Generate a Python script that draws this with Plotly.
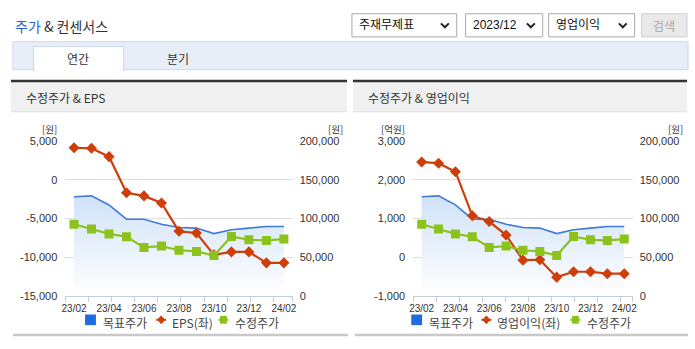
import plotly.graph_objects as go

# ---------------- data ----------------
months = ["23/02", "23/03", "23/04", "23/05", "23/06", "23/07", "23/08",
          "23/09", "23/10", "23/11", "23/12", "24/01", "24/02"]
tick_labels = ["23/02", "23/04", "23/06", "23/08", "23/10", "23/12", "24/02"]

target_price = [128000, 129200, 117500, 99000, 99000, 92500, 88300,
                87500, 80400, 85400, 87500, 89600, 89600]
adj_price = [92500, 86250, 80000, 76250, 62500, 64200, 58800,
             57300, 51900, 76700, 72300, 71500, 73300]
eps = [4150, 4080, 3000, -1670, -2080, -3000, -6670,
       -6880, -9710, -9330, -9330, -10750, -10750]
op_income = [2460, 2430, 2210, 1070, 920, 570, -80,
             -70, -520, -380, -380, -430, -430]

eps_ticks = [-15000, -10000, -5000, 0, 5000]
eps_tick_text = ["-15,000", "-10,000", "-5,000", "0", "5,000"]
op_ticks = [-1000, 0, 1000, 2000, 3000]
op_tick_text = ["-1,000", "0", "1,000", "2,000", "3,000"]
price_ticks = [0, 50000, 100000, 150000, 200000]
price_tick_text = ["0", "50,000", "100,000", "150,000", "200,000"]

# ---------------- helpers ----------------
W, H = 695, 349
def X(px): return px / W
def Y(py): return 1 - py / H

NFONT = "Liberation Sans Narrow, Liberation Sans, sans-serif"
FONT = "Liberation Sans, Noto Sans CJK KR, sans-serif"
KFONT = "Noto Sans CJK KR, sans-serif"
TXT = "#333333"
BLUE_LINE = "#3f7ad6"
RED = "#cf3d08"
GREEN = "#8cc21c"
AXIS_LINE = "#c3cddd"
GRID = "#dcdcdc"

xi = list(range(len(months)))
label_idx = [months.index(m) for m in tick_labels]

fig = go.Figure()

def add_chart(xref, y_price, y_left, y_top, left_vals, left_name):
    fig.add_trace(go.Scatter(
        x=xi, y=target_price, xaxis=xref, yaxis=y_price, mode="lines",
        line=dict(color=BLUE_LINE, width=1.6), fill="tozeroy",
        fillgradient=dict(type="vertical",
                          colorscale=[[0, "rgba(255,255,255,1)"],
                                      [1, "rgba(208,226,248,1)"]]),
        name="목표주가", showlegend=False, hoverinfo="skip"))
    fig.add_trace(go.Scatter(
        x=xi, y=left_vals, xaxis=xref, yaxis=y_left, mode="lines+markers",
        line=dict(color=RED, width=2.2),
        marker=dict(symbol="diamond", size=8.5, color=RED),
        name=left_name, showlegend=False))
    fig.add_trace(go.Scatter(
        x=xi, y=adj_price, xaxis=xref, yaxis=y_top, mode="lines+markers",
        line=dict(color=GREEN, width=2.2),
        marker=dict(symbol="square", size=9, color=GREEN),
        name="수정주가", showlegend=False))

add_chart("x", "y", "y2", "y5", eps, "EPS(좌)")
add_chart("x2", "y3", "y4", "y6", op_income, "영업이익(좌)")

ydom = [Y(300), Y(140)]
tickfont = dict(family=NFONT, size=11, color=TXT)
xtickfont = dict(family=NFONT, size=10, color=TXT)

def xaxis_cfg(x0, x1, step):
    n = len(months)
    slot = (x1 - x0) / n
    minor_vals = []
    v = -0.5
    while v < n - 0.5 - 0.3:
        minor_vals.append(v)
        v += step / slot
    minor_vals.append(n - 0.5)
    return dict(domain=[X(x0), X(x1)], range=[-0.5, n - 0.5],
                tickvals=label_idx, ticktext=tick_labels, ticks="",
                showgrid=False, zeroline=False, showline=True,
                linecolor=AXIS_LINE, linewidth=1.2, tickfont=xtickfont,
                ticklabelstandoff=3,
                minor=dict(ticks="outside", ticklen=5, tickcolor=AXIS_LINE,
                           tickwidth=1.2, tickvals=minor_vals, showgrid=False),
                fixedrange=True)

def yprice_cfg(xanchor):
    return dict(domain=ydom, anchor=xanchor, side="right",
                range=[0, 200000], tickvals=price_ticks, ticktext=price_tick_text,
                ticks="", showgrid=True, gridcolor=GRID, gridwidth=1,
                zeroline=False, showline=False,
                tickfont=tickfont, ticklabelstandoff=6, fixedrange=True)

def yleft_cfg(xanchor, overlay, vals, text):
    return dict(domain=ydom, anchor=xanchor, overlaying=overlay, side="left",
                range=[vals[0], vals[-1]],
                tickvals=vals, ticktext=text, ticks="", showgrid=False,
                zeroline=False, showline=False,
                tickfont=tickfont, ticklabelstandoff=7, fixedrange=True)

def ytop_cfg(xanchor, overlay):
    return dict(domain=ydom, anchor=xanchor, overlaying=overlay,
                range=[0, 200000], visible=False, showgrid=False,
                zeroline=False, fixedrange=True)

fig.update_layout(
    width=W, height=H, margin=dict(l=0, r=0, t=0, b=0),
    paper_bgcolor="white", plot_bgcolor="rgba(0,0,0,0)",
    showlegend=False,
    xaxis=xaxis_cfg(62, 292, 23.4),
    yaxis=yprice_cfg("x"),
    yaxis2=yleft_cfg("x", "y", eps_ticks, eps_tick_text),
    yaxis5=ytop_cfg("x", "y"),
    xaxis2=xaxis_cfg(414, 636, 23.3),
    yaxis3=yprice_cfg("x2"),
    yaxis4=yleft_cfg("x2", "y3", op_ticks, op_tick_text),
    yaxis6=ytop_cfg("x2", "y3"),
)

shapes = []
anns = []

def rect(x0, y0, x1, y1, fill=None, line=None, lw=1, layer="below"):
    shapes.append(dict(type="rect", xref="paper", yref="paper",
                       x0=X(x0), x1=X(x1), y0=Y(y1), y1=Y(y0),
                       fillcolor=fill or "rgba(0,0,0,0)",
                       line=dict(color=line or "rgba(0,0,0,0)", width=lw if line else 0),
                       layer=layer))

def path(points, color, width=1.5, fill=None, closed=False):
    d = "M" + " L".join(f"{X(a):.5f},{Y(b):.5f}" for a, b in points)
    if closed:
        d += " Z"
    shapes.append(dict(type="path", xref="paper", yref="paper", path=d,
                       line=dict(color=color, width=width),
                       fillcolor=fill or "rgba(0,0,0,0)", layer="above"))

def text(x, y, s, size=12, color=TXT, anchor="left", family=KFONT):
    anns.append(dict(x=X(x), y=Y(y), xref="paper", yref="paper", text=s,
                     showarrow=False, xanchor=anchor, yanchor="middle",
                     font=dict(family=family, size=size, color=color)))

# ----- header -----
text(9, 21, "<span style='color:#2a62d6'>주가</span> & 컨센서스", size=14)

def dropdown(x0, x1, label):
    rect(x0, 8, x1, 32, fill="white", line="#a9a9a9")
    text(x0 + 5, 20, label, size=12, color="#111111", family=FONT)
    cx = x1 - 12
    path([(cx - 4, 18), (cx, 22), (cx + 4, 18)], "#222222", width=2)

dropdown(352, 458, "주재무제표")
dropdown(467, 545, "2023/12")
dropdown(551, 638, "영업이익")
rect(645, 8, 691, 32, fill="#e9e9e9", line="#cfcfcf")
text(668, 20, "검색", size=12, color="#a8a8a8", anchor="center")

# tab bar
rect(9, 37, 692, 66, fill="#e8eef8", line="#cdd8ea")
rect(30, 42, 121, 67, fill="white", line="#cdd8ea")
rect(31, 64, 120, 68, fill="white")
text(75, 54, "연간", size=12, anchor="center")
text(176, 54, "분기", size=12, anchor="center")

# panels
for (a, b, title) in [(7, 347, "수정주가 & EPS"), (353, 691, "수정주가 & 영업이익")]:
    rect(a, 79, b, 109, fill="#f0f0f0")
    rect(a, 109, b, 110, fill="#dddddd")
    rect(a, 76.5, b, 79, fill="#333333")
    rect(a + 2, 339.5, b + 1, 342, fill="#c8c8c8")
    text(a + 13, 95, title, size=12)

# unit labels
text(46, 127, "[원]", size=9.5, anchor="center")
text(335, 127, "[원]", size=9.5, anchor="center")
text(394, 127, "[억원]", size=9.5, anchor="center")
text(679, 127, "[원]", size=9.5, anchor="center")

# legends
LY = 325
def legend(x, items):
    for kind, label, w in items:
        if kind == "area":
            rect(x, LY - 5.5, x + 11, LY + 5.5, fill="#1f6be0", layer="above")
            text(x + 16, LY + 2.5, label, size=12, color="#444444")
        elif kind == "red":
            path([(x, LY), (x + 10, LY)], RED, width=2)
            path([(x + 5, LY - 4), (x + 8.5, LY), (x + 5, LY + 4), (x + 1.5, LY)], RED, width=1, fill=RED, closed=True)
            text(x + 14, LY + 2.5, label, size=12, color="#444444")
        else:
            path([(x, LY), (x + 10, LY)], GREEN, width=2)
            rect(x + 1.5, LY - 4, x + 8.5, LY + 4, fill=GREEN, layer="above")
            text(x + 15, LY + 2.5, label, size=12, color="#444444")
        x += w

legend(82, [("area", "목표주가", 72), ("red", "EPS(좌)", 63), ("green", "수정주가", 0)])
legend(412, [("area", "목표주가", 71), ("red", "영업이익(좌)", 90), ("green", "수정주가", 0)])

fig.update_layout(shapes=shapes, annotations=anns)
fig.write_html("out.html")
